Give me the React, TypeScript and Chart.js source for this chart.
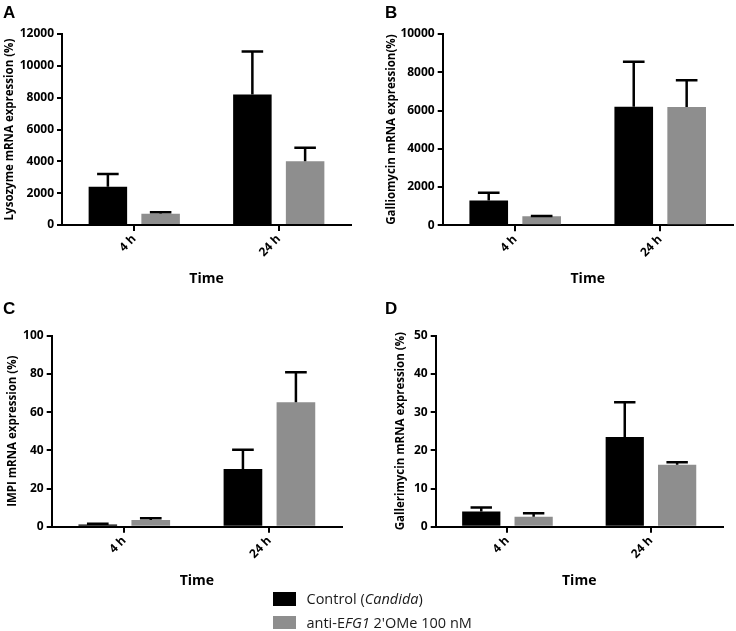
import React, { useEffect, useRef } from "react";
import { Chart, registerables } from "chart.js";

Chart.register(...registerables);
Chart.defaults.font.family = "'Open Sans', sans-serif";

const CATEGORIES = ["4 h", "24 h"];
const SERIES_NAMES = ["Control (Candida)", "anti-EFG1 2'OMe 100 nM"];

const A_CONTROL = [2400, 8200];
const A_CONTROL_ERR = [800, 2700];
const A_ANTI = [700, 4000];
const A_ANTI_ERR = [100, 850];

const B_CONTROL = [1300, 6200];
const B_CONTROL_ERR = [400, 2350];
const B_ANTI = [470, 6180];
const B_ANTI_ERR = [20, 1400];

const C_CONTROL = [1.2, 30.2];
const C_CONTROL_ERR = [0.3, 10.1];
const C_ANTI = [3.5, 65.1];
const C_ANTI_ERR = [0.9, 15.7];

const D_CONTROL = [4.0, 23.5];
const D_CONTROL_ERR = [1.0, 9.1];
const D_ANTI = [2.6, 16.2];
const D_ANTI_ERR = [0.9, 0.7];

const Y_MAX = [12000, 10000, 100, 50];
const Y_STEP = [2000, 2000, 20, 10];
const Y_TITLES = [
  "Lysozyme mRNA expression (%)",
  "Galliomycin mRNA expression(%)",
  "IMPI mRNA expression (%)",
  "Gallerimycin mRNA expression (%)",
];
const LETTERS = ["A", "B", "C", "D"];

const BLACK = "#000000";
const GRAY = "#8e8e8e";

const X_TITLE_SIZE = 14;
const Y_TITLE_SIZE = 11.5;
const TICK_SIZE = 12;

const errorBarPlugin = {
  id: "errorBars",
  afterDatasetsDraw(chart: any) {
    const { ctx } = chart;
    const y = chart.scales.y;
    chart.data.datasets.forEach((ds: any, i: number) => {
      const meta = chart.getDatasetMeta(i);
      meta.data.forEach((bar: any, j: number) => {
        const v = ds.data[j];
        const e = ds.errors[j];
        const x = bar.x;
        const yBar = y.getPixelForValue(v);
        const yTop = y.getPixelForValue(v + e);
        const w = bar.width * 0.56;
        ctx.save();
        ctx.strokeStyle = "#000";
        ctx.lineWidth = 2.5;
        ctx.beginPath();
        ctx.moveTo(x, yBar);
        ctx.lineTo(x, yTop);
        ctx.moveTo(x - w / 2, yTop);
        ctx.lineTo(x + w / 2, yTop);
        ctx.stroke();
        ctx.restore();
      });
    });
  },
};

type PanelCfg = {
  left: number;
  top: number;
  w: number;
  h: number;
  area: { l: number; r: number; t: number; b: number };
  yTitleX: number;
  xTitleY: number;
  control: number[];
  controlErr: number[];
  anti: number[];
  antiErr: number[];
  idx: number;
  letterX: number;
  letterY: number;
};

const PANELS: PanelCfg[] = [
  {
    left: 0, top: 0, w: 368, h: 295,
    area: { l: 62, r: 351, t: 34, b: 225 },
    yTitleX: 9.5, xTitleY: 279,
    control: A_CONTROL, controlErr: A_CONTROL_ERR, anti: A_ANTI, antiErr: A_ANTI_ERR,
    idx: 0, letterX: 3, letterY: 4,
  },
  {
    left: 368, top: 0, w: 368, h: 295,
    area: { l: 74.7, r: 364.7, t: 34, b: 225.3 },
    yTitleX: 24, xTitleY: 279,
    control: B_CONTROL, controlErr: B_CONTROL_ERR, anti: B_ANTI, antiErr: B_ANTI_ERR,
    idx: 1, letterX: 385, letterY: 4,
  },
  {
    left: 0, top: 300, w: 368, h: 295,
    area: { l: 51.7, r: 342, t: 35.7, b: 226.7 },
    yTitleX: 12.5, xTitleY: 280.8,
    control: C_CONTROL, controlErr: C_CONTROL_ERR, anti: C_ANTI, antiErr: C_ANTI_ERR,
    idx: 2, letterX: 3, letterY: 300,
  },
  {
    left: 368, top: 300, w: 368, h: 295,
    area: { l: 67.7, r: 354.7, t: 35.7, b: 226.7 },
    yTitleX: 33, xTitleY: 280.8,
    control: D_CONTROL, controlErr: D_CONTROL_ERR, anti: D_ANTI, antiErr: D_ANTI_ERR,
    idx: 3, letterX: 385, letterY: 300,
  },
];

function Panel({ cfg }: { cfg: PanelCfg }) {
  const ref = useRef<HTMLCanvasElement | null>(null);
  useEffect(() => {
    if (!ref.current) return;
    const lhX = X_TITLE_SIZE * 1.2;
    const lhY = Y_TITLE_SIZE * 1.2;
    const padLeft = cfg.yTitleX - lhY / 2;
    const yWidth = cfg.area.l - padLeft;
    const xBottom = cfg.xTitleY + lhX / 2;
    const xHeight = xBottom - cfg.area.b;
    const chart = new Chart(ref.current, {
      type: "bar",
      data: {
        labels: CATEGORIES,
        datasets: [
          {
            label: SERIES_NAMES[0],
            data: cfg.control,
            errors: cfg.controlErr,
            backgroundColor: BLACK,
            categoryPercentage: 0.73,
            barPercentage: 0.73,
          } as any,
          {
            label: SERIES_NAMES[1],
            data: cfg.anti,
            errors: cfg.antiErr,
            backgroundColor: GRAY,
            categoryPercentage: 0.73,
            barPercentage: 0.73,
          } as any,
        ],
      },
      options: {
        responsive: false,
        maintainAspectRatio: false,
        animation: false,
        layout: {
          padding: {
            left: padLeft,
            top: cfg.area.t,
            right: cfg.w - cfg.area.r,
            bottom: cfg.h - xBottom,
          },
        },
        plugins: { legend: { display: false }, tooltip: { enabled: false } },
        scales: {
          x: {
            afterFit: (s: any) => {
              s.height = xHeight;
            },
            grid: {
              offset: false,
              drawOnChartArea: false,
              drawTicks: true,
              tickLength: 6,
              color: "#000",
              lineWidth: 2,
            },
            border: { display: true, color: "#000", width: 2 },
            ticks: {
              color: "#000",
              font: { weight: "bold", size: TICK_SIZE },
              minRotation: 45,
              maxRotation: 45,
              padding: 1,
            },
            title: {
              display: true,
              text: "Time",
              color: "#000",
              font: { weight: "bold", size: X_TITLE_SIZE },
              padding: 0,
            },
          },
          y: {
            min: 0,
            max: Y_MAX[cfg.idx],
            afterFit: (s: any) => {
              s.width = yWidth;
            },
            ticks: {
              stepSize: Y_STEP[cfg.idx],
              color: "#000",
              font: { weight: "bold", size: TICK_SIZE },
              padding: 3,
              callback: (v: any) => String(v),
            },
            grid: {
              drawOnChartArea: false,
              drawTicks: true,
              tickLength: 5,
              color: "#000",
              lineWidth: 2,
            },
            border: { display: true, color: "#000", width: 2 },
            title: {
              display: true,
              text: Y_TITLES[cfg.idx],
              color: "#000",
              font: { weight: "bold", size: Y_TITLE_SIZE },
              padding: 0,
            },
          },
        },
      } as any,
      plugins: [errorBarPlugin],
    });
    return () => chart.destroy();
  }, [cfg]);
  return (
    <canvas
      ref={ref}
      width={cfg.w}
      height={cfg.h}
      style={{
        position: "absolute",
        left: cfg.left,
        top: cfg.top,
        width: cfg.w,
        height: cfg.h,
      }}
    />
  );
}

export default function App() {
  return (
    <div
      style={{
        position: "absolute",
        left: 0,
        top: 0,
        width: 736,
        height: 631,
        background: "#fff",
        overflow: "hidden",
      }}
    >
      {PANELS.map((p) => (
        <Panel key={p.idx} cfg={p} />
      ))}
      {PANELS.map((p) => (
        <div
          key={"l" + p.idx}
          style={{
            position: "absolute",
            left: p.letterX,
            top: p.letterY,
            font: "bold 17px 'Liberation Sans', Arial, sans-serif",
            lineHeight: "17px",
            color: "#000",
          }}
        >
          {LETTERS[p.idx]}
        </div>
      ))}
      <div
        style={{
          position: "absolute",
          left: 273,
          top: 592,
          width: 23,
          height: 13.5,
          background: BLACK,
        }}
      />
      <div
        style={{
          position: "absolute",
          left: 273,
          top: 615.5,
          width: 23,
          height: 13.5,
          background: GRAY,
        }}
      />
      <div
        style={{
          position: "absolute",
          left: 306.5,
          top: 589,
          font: "14.5px 'Open Sans', sans-serif",
          lineHeight: "20px",
          color: "#1a1a1a",
          whiteSpace: "nowrap",
        }}
      >
        Control (<i>Candida</i>)
      </div>
      <div
        style={{
          position: "absolute",
          left: 306.5,
          top: 612.5,
          font: "14.5px 'Open Sans', sans-serif",
          lineHeight: "20px",
          color: "#1a1a1a",
          whiteSpace: "nowrap",
        }}
      >
        anti-E<i>FG1</i> 2'OMe 100 nM
      </div>
    </div>
  );
}
